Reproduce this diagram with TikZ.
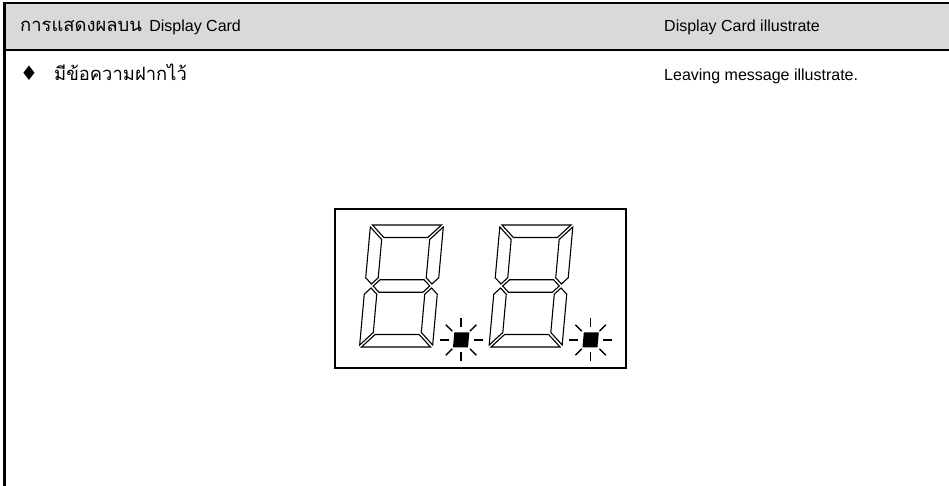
\documentclass[tikz,border=0pt]{standalone}
\usepackage{fontspec}
\setmainfont{Liberation Sans}
\newfontfamily\thaifont[Script=Thai,Scale=1.15]{Loma}
\newfontfamily\symfont[Scale=1.25]{DejaVu Sans}
\definecolor{hdrgray}{RGB}{217,217,217}
\tikzset{
  seg/.style={draw=black, line width=1.1pt, fill=white, line join=miter},
  txt/.style={inner sep=0pt, anchor=base west, font=\fontsize{16}{19}\selectfont},
  ray/.style={line width=1.5pt},
  border/.style={line width=2.5pt, black},
  dotsq/.style={fill=black}
}
\begin{document}
\begin{tikzpicture}[x=1pt,y=1pt]
\useasboundingbox (0,0) rectangle (949,486);
% header band
\fill[hdrgray] (5,483) rectangle (949,436);
\draw[border] (3.5,483) -- (949,483);
\draw[line width=2pt] (4,436) -- (949,436);
\draw[line width=2.7pt] (4.7,484.2) -- (4.7,0);
% texts
\node[txt] (h1) at (20,454) {{\thaifont การแสดงผลบน}\hspace{3pt} Display Card};
\node[txt] (h2) at (664,454) {Display Card illustrate};
\node[txt] (b1) at (20,405) {{\symfont ♦}\hspace{16pt}{\thaifont มีข้อความฝากไว้}};
\node[txt] (b2) at (664,405) {Leaving message illustrate.};
% display frame
\draw[line width=1.8pt] (335,277) rectangle (626,118);
% digits
\foreach \ox/\nm in {359.5/d1, 489/d2}{
\begin{scope}[shift={(\ox,139)}, xslant=0.09]
  \draw[seg] (2,122) -- (71,122) -- (58.5,109.5) -- (14.5,109.5) -- cycle;
  \draw[seg] (2,0) -- (71,0) -- (58.5,12.5) -- (14.5,12.5) -- cycle;
  \draw[seg] (8.25,61) -- (14.5,67.25) -- (58.5,67.25) -- (64.75,61) -- (58.5,54.75) -- (14.5,54.75) -- cycle;
  \draw[seg] (0,120) -- (12.5,107.5) -- (12.5,69.25) -- (6.25,63) -- (0,69.25) -- cycle;
  \draw[seg] (0,2) -- (12.5,14.5) -- (12.5,52.75) -- (6.25,59) -- (0,52.75) -- cycle;
  \draw[seg] (73,120) -- (73,69.25) -- (66.75,63) -- (60.5,69.25) -- (60.5,107.5) -- cycle;
  \draw[seg] (73,2) -- (73,52.75) -- (66.75,59) -- (60.5,52.75) -- (60.5,14.5) -- cycle;
  \fill[dotsq] (93.5,-0.5) rectangle (108.5,14.5);
  \coordinate (\nm) at (101,7);
\end{scope}
}
\foreach \c in {d1,d2}{
  \foreach \a in {0,45,...,315}{
    \draw[ray] (\c) ++(\a:12.5) -- ++(\a:9);
  }
}
\end{tikzpicture}
\end{document}
